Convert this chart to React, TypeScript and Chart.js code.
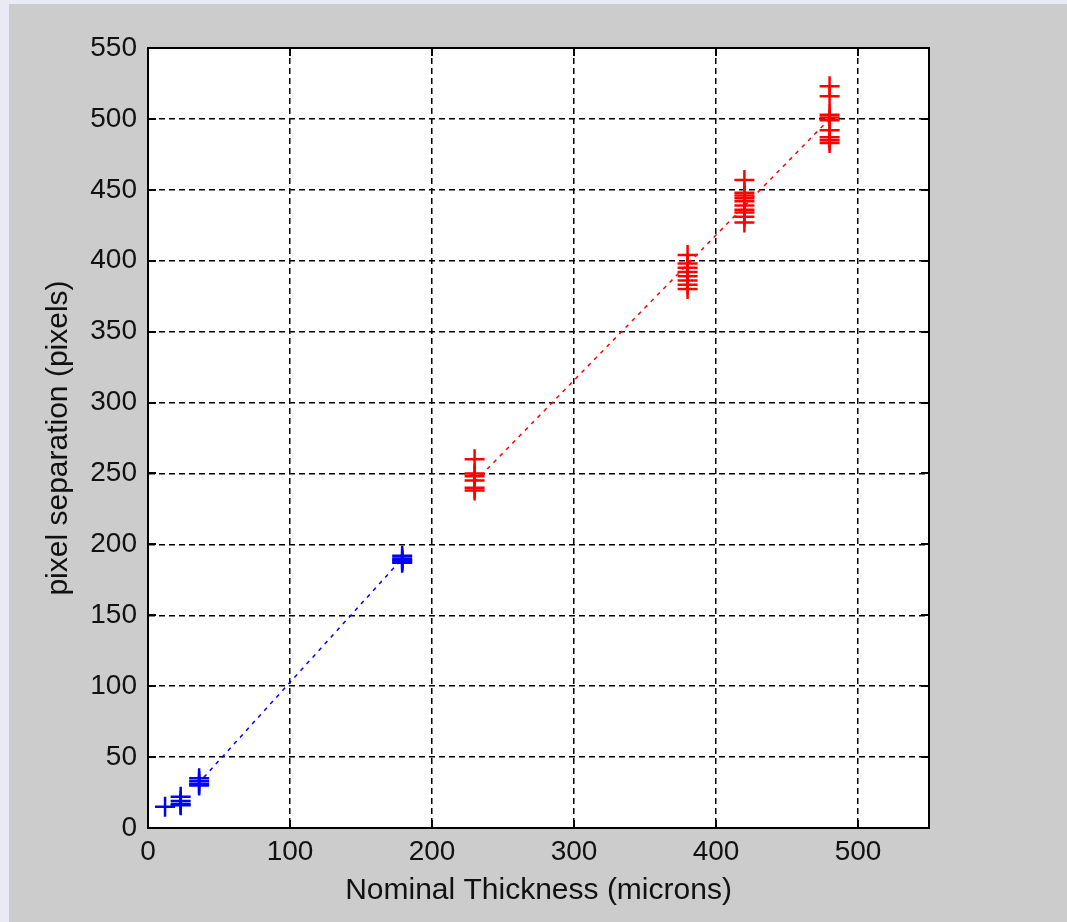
import React, { useEffect, useRef } from "react";
import { Chart, registerables } from "chart.js";

Chart.register(...registerables);

const xTickValues = [0, 100, 200, 300, 400, 500];
const yTickValues = [0, 50, 100, 150, 200, 250, 300, 350, 400, 450, 500, 550];

const blueX = [12, 23, 23, 23, 23, 36, 36, 36, 36, 179, 179, 179, 179, 179];
const blueY = [15, 22, 19, 17, 16, 35, 33, 31, 30, 192, 190, 189, 188, 187];

const redX = [
  230, 230, 230, 230, 230, 230,
  380, 380, 380, 380, 380, 380, 380, 380,
  420, 420, 420, 420, 420, 420, 420, 420, 420, 420,
  480, 480, 480, 480, 480, 480, 480, 480, 480,
];
const redY = [
  260, 250, 248, 245, 240, 238,
  404, 398, 395, 392, 389, 386, 383, 380,
  457, 448, 446, 444, 442, 439, 436, 434, 431, 427,
  523, 516, 503, 501, 499, 492, 487, 485, 483,
];

const blueFitX = [35, 180];
const blueFitY = [31, 191];
const redFitX = [230, 480];
const redFitY = [244, 500];

const xTitle = "Nominal Thickness (microns)";
const yTitle = "pixel separation (pixels)";

const FONT = "'Liberation Sans', Arial, sans-serif";

const pts = (xs: number[], ys: number[]) => xs.map((x, i) => ({ x, y: ys[i] }));

const framePlugin = {
  id: "frame",
  beforeDraw(chart: any) {
    const { ctx, chartArea: a } = chart;
    ctx.save();
    ctx.fillStyle = "#ffffff";
    ctx.fillRect(a.left, a.top, a.right - a.left, a.bottom - a.top);
    ctx.restore();
  },
  afterDraw(chart: any) {
    const { ctx, chartArea: a, scales } = chart;
    ctx.save();
    ctx.strokeStyle = "#000000";
    ctx.lineWidth = 2;
    ctx.setLineDash([]);
    const L = 8;
    ctx.beginPath();
    xTickValues.forEach((v) => {
      const px = Math.round(scales.x.getPixelForValue(v));
      ctx.moveTo(px, a.bottom);
      ctx.lineTo(px, a.bottom - L);
      ctx.moveTo(px, a.top);
      ctx.lineTo(px, a.top + L);
    });
    yTickValues.forEach((v) => {
      const py = Math.round(scales.y.getPixelForValue(v));
      ctx.moveTo(a.left, py);
      ctx.lineTo(a.left + L, py);
      ctx.moveTo(a.right, py);
      ctx.lineTo(a.right - L, py);
    });
    ctx.stroke();
    ctx.strokeRect(a.left, a.top, a.right - a.left, a.bottom - a.top);
    ctx.restore();
  },
};

export default function App() {
  const ref = useRef<HTMLCanvasElement | null>(null);

  useEffect(() => {
    if (!ref.current) return;
    const chart = new Chart(ref.current, {
      type: "scatter",
      data: {
        datasets: [
          {
            label: "blue",
            data: pts(blueX, blueY),
            showLine: false,
            pointStyle: "cross",
            pointRadius: 10,
            pointBorderWidth: 2.5,
            pointBorderColor: "#0000ff",
            pointBackgroundColor: "#0000ff",
          },
          {
            label: "red",
            data: pts(redX, redY),
            showLine: false,
            pointStyle: "cross",
            pointRadius: 10,
            pointBorderWidth: 2.5,
            pointBorderColor: "#ff0000",
            pointBackgroundColor: "#ff0000",
          },
          {
            label: "blue fit",
            data: pts(blueFitX, blueFitY),
            showLine: true,
            borderColor: "#0000ff",
            borderWidth: 1.5,
            borderDash: [4, 5],
            pointRadius: 0,
          },
          {
            label: "red fit",
            data: pts(redFitX, redFitY),
            showLine: true,
            borderColor: "#ff0000",
            borderWidth: 1.5,
            borderDash: [4, 5],
            pointRadius: 0,
          },
        ],
      },
      options: {
        responsive: false,
        animation: false,
        devicePixelRatio: 1,
        layout: { padding: { left: 0, top: 48, right: 138, bottom: 0 } },
        plugins: {
          legend: { display: false },
          tooltip: { enabled: false },
        },
        scales: {
          x: {
            type: "linear",
            min: 0,
            max: 550,
            afterBuildTicks: (s: any) => {
              s.ticks = xTickValues.map((v) => ({ value: v }));
            },
            afterFit: (s: any) => {
              s.height = 94;
            },
            ticks: {
              color: "#111111",
              font: { family: FONT, size: 28 },
              padding: 7,
              maxRotation: 0,
            },
            grid: { color: "#000000", lineWidth: 1.5, drawTicks: false },
            border: { display: true, color: "#000000", width: 2, dash: [6, 4] },
            title: {
              display: true,
              text: xTitle,
              color: "#111111",
              font: { family: FONT, size: 30 },
              padding: { top: 0, bottom: 13 },
            },
          },
          y: {
            type: "linear",
            min: 0,
            max: 550,
            afterBuildTicks: (s: any) => {
              s.ticks = yTickValues.map((v) => ({ value: v }));
            },
            afterFit: (s: any) => {
              s.width = 148;
            },
            ticks: {
              color: "#111111",
              font: { family: FONT, size: 28 },
              padding: 11,
            },
            grid: { color: "#000000", lineWidth: 1.5, drawTicks: false },
            border: { display: true, color: "#000000", width: 2, dash: [6, 4] },
            title: {
              display: true,
              text: yTitle,
              color: "#111111",
              font: { family: FONT, size: 30 },
              padding: { top: 41, bottom: 0 },
            },
          },
        },
      },
      plugins: [framePlugin],
    });
    return () => chart.destroy();
  }, []);

  return (
    <div
      style={{
        position: "fixed",
        left: 0,
        top: 0,
        width: 1067,
        height: 922,
        background: "#e9eaf4",
        overflow: "hidden",
      }}
    >
      <div
        style={{
          position: "absolute",
          left: 9,
          top: 4,
          right: 0,
          bottom: 0,
          background: "#cccccc",
        }}
      />
      <canvas
        ref={ref}
        width={1067}
        height={922}
        style={{ position: "absolute", left: 0, top: 0, width: 1067, height: 922, display: "block" }}
      />
    </div>
  );
}
